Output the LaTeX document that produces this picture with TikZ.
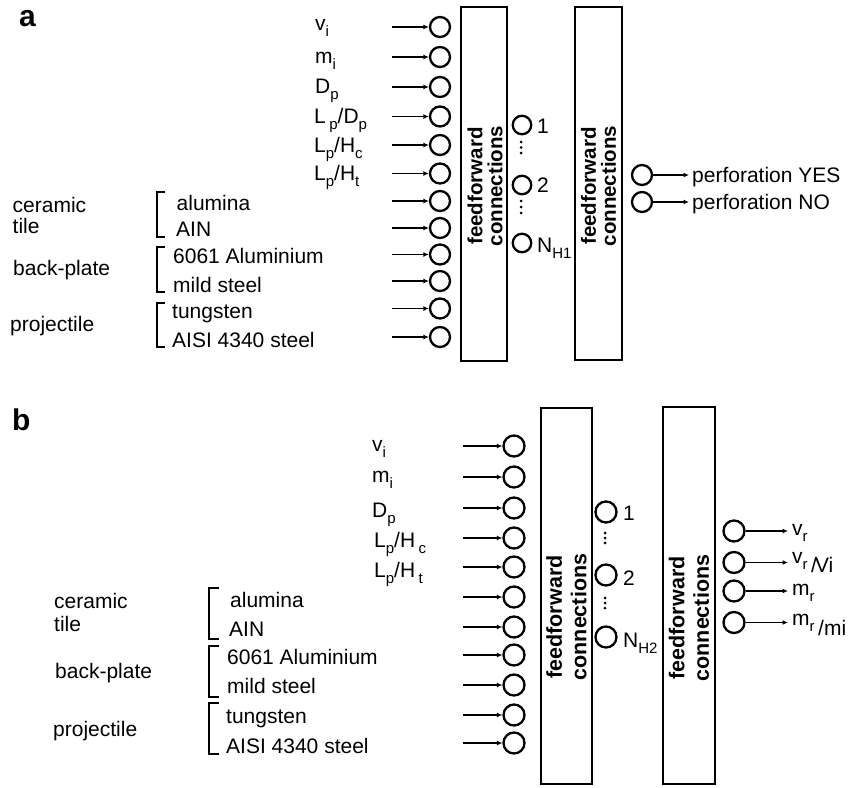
\documentclass[tikz,border=0pt]{standalone}
\usepackage{fontspec}
\setmainfont{Liberation Sans}
\usetikzlibrary{arrows.meta}
\newcommand\lsub[1]{\raisebox{-6pt}{\fontsize{15}{15}\selectfont #1}}
\begin{document}
\begin{tikzpicture}[x=1pt,y=-1pt,
  lbl/.style={anchor=base west, inner sep=0pt, font=\fontsize{21}{21}\selectfont},
  unita/.style={circle, draw, line width=2.3pt, minimum size=20pt, inner sep=0pt},
  unitb/.style={circle, draw, line width=2.3pt, minimum size=21pt, inner sep=0pt},
  hunita/.style={unita, minimum size=18.5pt},
  boxnode/.style={draw, line width=1.7pt, inner sep=0pt},
  arr/.style={line width=1.8pt, -{Latex[length=5.5pt,width=5pt]}},
  brk/.style={line width=1.5pt},
  ffa/.style={rotate=90, align=center, inner sep=0pt, font=\fontsize{20.5}{20}\selectfont\bfseries},
  ffb/.style={rotate=90, align=center, inner sep=0pt, font=\fontsize{21.5}{24.5}\selectfont\bfseries},
  dotn/.style={circle, fill, inner sep=0pt, minimum size=3pt},
  panel/.style={anchor=base west, inner sep=0pt, font=\fontsize{30}{30}\selectfont\bfseries}]
\useasboundingbox (0,0) rectangle (856,787);

% ================= panel a =================
\node[panel] (pa) at (19,27) {a};

\foreach \y [count=\i] in {27,57,87,116.5,145,173.5,201,228,254.5,281,308.5,337} {
  \node[unita] (ai\i) at (440,\y) {};
  \coordinate (as\i) at (392,\y);
  \draw[arr] (as\i) -- (ai\i);
}

\node[lbl] (la1) at (315,30.5) {v\lsub{i}};
\node[lbl] (la2) at (315,63.5) {m\lsub{i}};
\node[lbl] (la3) at (315,93.5) {D\lsub{p}};
\node[lbl] (la4) at (314,123) {L\,\lsub{p}/D\lsub{p}};
\node[lbl] (la5) at (314,152) {L\lsub{p}/H\lsub{c}};
\node[lbl] (la6) at (314,180) {L\lsub{p}/H\lsub{t}};

\node[lbl] (ma1) at (176.5,210) {alumina};
\node[lbl] (ma2) at (176,236) {AIN};
\node[lbl] (ma3) at (173,263) {6061 Aluminium};
\node[lbl] (ma4) at (173,292) {mild steel};
\node[lbl] (ma5) at (172,318) {tungsten};
\node[lbl] (ma6) at (172,347) {AISI 4340 steel};

\node[lbl] (ga1) at (12.5,212) {ceramic};
\node[lbl] (ga2) at (12.5,233) {tile};
\node[lbl] (ga3) at (13,275) {back-plate};
\node[lbl] (ga4) at (10,331) {projectile};

\draw[brk] (165,192) -- (157,192) -- (157,237) -- (165,237);
\draw[brk] (165,247) -- (157,247) -- (157,292) -- (165,292);
\draw[brk] (165,303) -- (157,303) -- (157,347) -- (165,347);

\node[boxnode, minimum width=46pt, minimum height=354pt] (abox1) at (484,184) {};
\node[boxnode, minimum width=47pt, minimum height=353pt] (abox2) at (598.5,183.5) {};
\node[ffa] (aff1) at (485,186) {feedforward\\connections};
\node[ffa] (aff2) at (598.5,186) {feedforward\\connections};

\node[hunita] (ah1) at (522,125) {};
\node[hunita] (ah2) at (522,185) {};
\node[hunita] (ah3) at (522,243) {};
\node[lbl] (lh1) at (537,133) {1};
\node[lbl] (lh2) at (537,192) {2};
\node[lbl] (lh3) at (537,252) {N\lsub{H1}};
\foreach \y [count=\i] in {142,147.5,153,201,207,213} {
  \node[dotn] (ad\i) at (521,\y) {};
}

\node[unita] (ao1) at (642,175) {};
\node[unita] (ao2) at (642,202) {};
\coordinate (aoe1) at (689,175);
\coordinate (aoe2) at (689,202);
\draw[arr] (ao1) -- (aoe1);
\draw[arr] (ao2) -- (aoe2);
\node[lbl] (lo1) at (692,182) {perforation YES};
\node[lbl] (lo2) at (692,209) {perforation NO};

% ================= panel b =================
\node[panel] (pb) at (12,430) {b};

\foreach \y [count=\i] in {446,477,508,538,567,597,627,655,685,715,743} {
  \node[unitb] (bi\i) at (514,\y) {};
  \coordinate (bs\i) at (463,\y);
  \draw[arr] (bs\i) -- (bi\i);
}

\node[lbl] (lb1) at (372,451) {v\lsub{i}};
\node[lbl] (lb2) at (372,482) {m\lsub{i}};
\node[lbl] (lb3) at (372,517) {D\lsub{p}};
\node[lbl] (lb4) at (374,547) {L\lsub{p}/H\,\lsub{c}};
\node[lbl] (lb5) at (374,577) {L\lsub{p}/H\,\lsub{t}};

\node[lbl] (mb1) at (230,607) {alumina};
\node[lbl] (mb2) at (229,636) {AIN};
\node[lbl] (mb3) at (227,664) {6061 Aluminium};
\node[lbl] (mb4) at (227,693) {mild steel};
\node[lbl] (mb5) at (226,723) {tungsten};
\node[lbl] (mb6) at (226,753) {AISI 4340 steel};

\node[lbl] (gb1) at (54,608) {ceramic};
\node[lbl] (gb2) at (54,631) {tile};
\node[lbl] (gb3) at (55,678) {back-plate};
\node[lbl] (gb4) at (53,736) {projectile};

\draw[brk] (219,588) -- (209,588) -- (209,639) -- (219,639);
\draw[brk] (219,646) -- (209,646) -- (209,697) -- (219,697);
\draw[brk] (219,703) -- (209,703) -- (209,754) -- (219,754);

\node[boxnode, minimum width=51pt, minimum height=376pt] (bbox1) at (566.5,596) {};
\node[boxnode, minimum width=52pt, minimum height=377pt] (bbox2) at (689,595.5) {};
\node[ffb] (bff1) at (566.5,617) {feedforward\\connections};
\node[ffb] (bff2) at (689,618) {feedforward\\connections};

\node[unitb] (bh1) at (606,512) {};
\node[unitb] (bh2) at (606,575) {};
\node[unitb] (bh3) at (606,637) {};
\node[lbl] (lbh1) at (623,520) {1};
\node[lbl] (lbh2) at (623,585) {2};
\node[lbl] (lbh3) at (623,647) {N\lsub{H2}};
\foreach \y [count=\i] in {533,538,543,598,603,608} {
  \node[dotn] (bd\i) at (605,\y) {};
}

\foreach \y [count=\i] in {531,562.5,591,622.5} {
  \node[unitb] (bo\i) at (734,\y) {};
  \coordinate (boe\i) at (788,\y);
  \draw[arr] (bo\i) -- (boe\i);
}
\node[lbl] (lbo1) at (792,535) {v\lsub{r}};
\node[lbl] (lbo2) at (792,563) {v\lsub{r}\,\raisebox{-9pt}{/\kern-2pt Vi}};
\node[lbl] (lbo3) at (792,595) {m\lsub{r}};
\node[lbl] (lbo4) at (792,625) {m\lsub{r}\,\raisebox{-10pt}{/mi}};
\end{tikzpicture}
\end{document}
